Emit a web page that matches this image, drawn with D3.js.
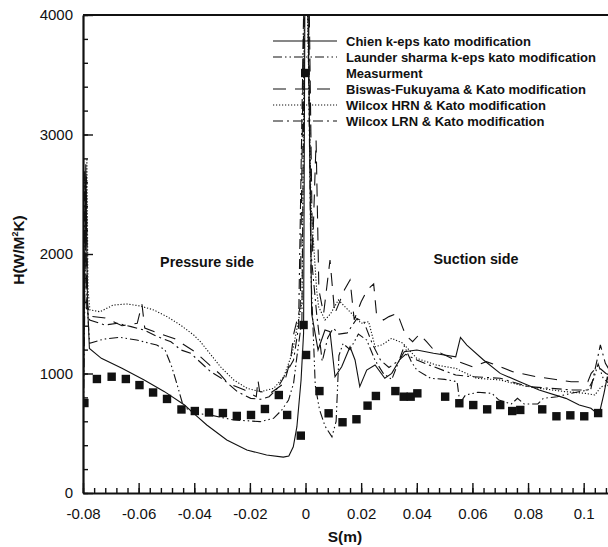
<!DOCTYPE html>
<html>
<head>
<meta charset="utf-8">
<script src="https://cdn.jsdelivr.net/npm/d3@7"></script>
<style>
  body { margin: 0; background: #fff; }
  #chart { width: 608px; height: 547px; }
  text { font-family: 'Liberation Sans', Arial, Helvetica, sans-serif; fill: #111; }
</style>
</head>
<body>
<div id="chart"></div>
<script>
// S(m) / H(W/m2K) pairs
const chien = [[-0.0800, 450], [-0.0790, 2750], [-0.0784, 1600], [-0.0777, 1210], [-0.0734, 1127], [-0.0660, 1043], [-0.0580, 946], [-0.0507, 848], [-0.0435, 736], [-0.0396, 653], [-0.0355, 569], [-0.0283, 443], [-0.0211, 360], [-0.0140, 318], [-0.0080, 300], [-0.0060, 310], [-0.0044, 387], [-0.0031, 555], [-0.0016, 946], [-0.0007, 1336], [-0.0002, 4300], [0.0008, 4300], [0.0022, 1500], [0.0045, 1197], [0.0070, 1364], [0.0088, 1350], [0.0106, 973], [0.0130, 1057], [0.0160, 1224], [0.0178, 1113], [0.0195, 890], [0.0220, 1029], [0.0250, 1071], [0.0285, 960], [0.0310, 1001], [0.0355, 1182], [0.0400, 1196], [0.0460, 1169], [0.0540, 1140], [0.0557, 1302], [0.0580, 1238], [0.0640, 1113], [0.0700, 1001], [0.0770, 931], [0.0840, 862], [0.0936, 792], [0.0984, 736], [0.1026, 709], [0.1055, 653], [0.1073, 834], [0.1085, 973], [0.1101, 806]]

const launder = [[-0.0800, 350], [-0.0788, 2650], [-0.0783, 1500], [-0.0776, 1253], [-0.0727, 1287], [-0.0667, 1303], [-0.0607, 1280], [-0.0535, 1239], [-0.0505, 1197], [-0.0481, 1057], [-0.0463, 918], [-0.0439, 722], [-0.0396, 667], [-0.0343, 653], [-0.0259, 611], [-0.0211, 605], [-0.0163, 597], [-0.0115, 625], [-0.0085, 695], [-0.0061, 778], [-0.0043, 918], [-0.0031, 1141], [-0.0013, 1448], [-0.0003, 4300], [0.0007, 4300], [0.0020, 1800], [0.0035, 900], [0.0050, 700], [0.0070, 560], [0.0095, 470], [0.0110, 600], [0.0120, 1150], [0.0135, 1250], [0.0160, 1200], [0.0190, 1330], [0.0220, 1280], [0.0250, 1110], [0.0280, 1000], [0.0310, 950], [0.0335, 1100], [0.0355, 1230], [0.0380, 1100], [0.0400, 1029], [0.0450, 960], [0.0500, 951], [0.0545, 931], [0.0555, 751], [0.0575, 820], [0.0620, 843], [0.0670, 834], [0.0695, 778], [0.0740, 745], [0.0762, 792], [0.0786, 745], [0.0835, 745], [0.0855, 792], [0.0905, 806], [0.0955, 834], [0.1015, 862], [0.1035, 950], [0.1052, 1080], [0.1070, 960], [0.1100, 900]]

const biswas = [[-0.0800, 800], [-0.0792, 2600], [-0.0786, 1600], [-0.0776, 1480], [-0.0720, 1465], [-0.0660, 1400], [-0.0605, 1420], [-0.0588, 1580], [-0.0578, 1380], [-0.0520, 1330], [-0.0470, 1290], [-0.0430, 1230], [-0.0398, 1182], [-0.0338, 1057], [-0.0310, 1000], [-0.0279, 918], [-0.0219, 862], [-0.0177, 806], [-0.0171, 946], [-0.0165, 850], [-0.0127, 834], [-0.0077, 918], [-0.0054, 1113], [-0.0042, 1336], [-0.0019, 1559], [-0.0005, 4300], [0.0012, 4300], [0.0025, 2000], [0.0038, 2950], [0.0048, 1700], [0.0065, 1500], [0.0088, 1950], [0.0105, 1500], [0.0140, 1700], [0.0160, 1783], [0.0175, 1450], [0.0200, 1600], [0.0222, 1700], [0.0245, 1750], [0.0255, 1500], [0.0280, 1448], [0.0300, 1476], [0.0330, 1504], [0.0350, 1380], [0.0360, 1322], [0.0385, 1266], [0.0410, 1330], [0.0435, 1266], [0.0460, 1200], [0.0550, 1099], [0.0600, 1057], [0.0650, 1099], [0.0700, 1057], [0.0745, 1015], [0.0830, 973], [0.0900, 950], [0.0955, 931], [0.1015, 931], [0.1027, 1001], [0.1050, 1060], [0.1080, 1000], [0.1100, 980]]

const wilcoxHrn = [[-0.0800, 1000], [-0.0786, 2800], [-0.0782, 1700], [-0.0775, 1532], [-0.0739, 1517], [-0.0691, 1573], [-0.0643, 1582], [-0.0594, 1565], [-0.0546, 1532], [-0.0498, 1476], [-0.0450, 1406], [-0.0402, 1322], [-0.0378, 1266], [-0.0354, 1197], [-0.0306, 1057], [-0.0258, 946], [-0.0210, 876], [-0.0162, 848], [-0.0114, 876], [-0.0078, 973], [-0.0048, 1169], [-0.0025, 1448], [-0.0013, 1588], [-0.0003, 4300], [0.0005, 4300], [0.0020, 2400], [0.0040, 1700], [0.0047, 1559], [0.0070, 1448], [0.0090, 1500], [0.0118, 1615], [0.0165, 1504], [0.0200, 1420], [0.0227, 1434], [0.0250, 1224], [0.0275, 1239], [0.0310, 1295], [0.0350, 1253], [0.0400, 1127], [0.0470, 1071], [0.0540, 1043], [0.0615, 960], [0.0700, 946], [0.0770, 904], [0.0840, 876], [0.0935, 848], [0.1005, 834], [0.1040, 820], [0.1063, 890], [0.1087, 900], [0.1100, 880]]

const wilcoxLrn = [[-0.0800, 600], [-0.0794, 2700], [-0.0788, 1550], [-0.0776, 1448], [-0.0722, 1406], [-0.0675, 1420], [-0.0627, 1392], [-0.0580, 1364], [-0.0532, 1308], [-0.0484, 1266], [-0.0448, 1197], [-0.0413, 1169], [-0.0341, 1015], [-0.0293, 946], [-0.0245, 848], [-0.0197, 792], [-0.0161, 784], [-0.0131, 806], [-0.0101, 876], [-0.0077, 973], [-0.0043, 1113], [-0.0025, 1392], [-0.0005, 4300], [0.0010, 4300], [0.0020, 2000], [0.0040, 1500], [0.0060, 1100], [0.0080, 1300], [0.0100, 1380], [0.0120, 1330], [0.0150, 1340], [0.0185, 1460], [0.0210, 1430], [0.0240, 1250], [0.0270, 1110], [0.0300, 1050], [0.0330, 1100], [0.0360, 1160], [0.0400, 1113], [0.0460, 1057], [0.0540, 987], [0.0600, 973], [0.0700, 960], [0.0800, 890], [0.0880, 876], [0.0960, 862], [0.1025, 862], [0.1043, 1057], [0.1060, 1239], [0.1078, 1085], [0.1100, 1000]]

const measS = [-0.0795, -0.0750, -0.0697, -0.0646, -0.0597, -0.0548, -0.0498, -0.0446, -0.0398, -0.0347, -0.0297, -0.0247, -0.0196, -0.0146, -0.0096, -0.0066, -0.0017, -0.0007, 0.0002, 0.0050, 0.0083, 0.0133, 0.0183, 0.0223, 0.0253, 0.0323, 0.0353, 0.0378, 0.0402, 0.0502, 0.0553, 0.0603, 0.0653, 0.0700, 0.0743, 0.0772, 0.0851, 0.0902, 0.0952, 0.1002, 0.1052]
const measH = [753, 954, 973, 954, 903, 841, 787, 699, 686, 674, 669, 645, 653, 703, 820, 653, 480, 1406, 1155, 853, 667, 592, 617, 731, 812, 853, 806, 806, 834, 806, 751, 736, 700, 736, 686, 695, 700, 642, 650, 642, 669]

const xMajor = [-0.08, -0.06, -0.04, -0.02, 0, 0.02, 0.04, 0.06, 0.08, 0.1]
const yMajor = [0, 1000, 2000, 3000, 4000]

const seriesNames = ['Chien k-eps kato modification', 'Launder sharma k-eps kato modification', 'Measurment',
  'Biswas-Fukuyama & Kato modification', 'Wilcox HRN & Kato modification', 'Wilcox LRN & Kato modification']

class HeatChart {
  constructor (divId) {
    this.divId = divId
    this.chart = {}
    this.chart.svg = d3.select('#' + divId)
      .append('svg')
      .attr('width', 608)
      .attr('height', 547)
    this.chart.x = d3.scaleLinear().domain([-0.08, 0.11]).range([83, 611.5])
    this.chart.y = d3.scaleLinear().domain([0, 4000]).range([493, 15])
  }

  render () {
    this.renderAxes()
    this.renderLines()
    this.renderLegend()
    this.renderText()
  }

  renderAxes () {
    const svg = this.chart.svg
    const x = this.chart.x
    const y = this.chart.y

    const xMinor = d3.range(-80, 111, 4).map(d => d / 1000)
    const yMinor = d3.range(0, 4001, 200)

    svg.append('g')
      .attr('transform', 'translate(0,493)')
      .call(d3.axisBottom(x).tickValues(xMinor).tickSize(-5).tickSizeOuter(0).tickFormat(''))
      .call(g => g.select('.domain').remove())
    svg.append('g')
      .attr('class', 'xaxis')
      .attr('transform', 'translate(0,493)')
      .call(d3.axisBottom(x).tickValues(xMajor).tickSize(-10).tickSizeOuter(0).tickPadding(15)
        .tickFormat(d => String(+d.toFixed(2))))

    svg.append('g')
      .attr('transform', 'translate(83,0)')
      .call(d3.axisLeft(y).tickValues(yMinor).tickSize(-5).tickSizeOuter(0).tickFormat(''))
      .call(g => g.select('.domain').remove())
    svg.append('g')
      .attr('class', 'yaxis')
      .attr('transform', 'translate(83,0)')
      .call(d3.axisLeft(y).tickValues(yMajor).tickSize(-10).tickSizeOuter(0).tickPadding(10)
        .tickFormat(d3.format('d')))

    svg.selectAll('.tick line').attr('stroke', '#111').attr('stroke-width', 1.4)
    svg.selectAll('.domain').attr('stroke', '#111').attr('stroke-width', 2.2)
    svg.selectAll('.xaxis text, .yaxis text')
      .attr('font-size', 15)
      .attr('fill', '#111')
      .style('font-family', "'Liberation Sans', Arial, sans-serif")

    // top frame
    svg.append('line')
      .attr('x1', x(-0.08)).attr('x2', x(0.11))
      .attr('y1', y(4000)).attr('y2', y(4000))
      .attr('stroke', '#111')
      .attr('stroke-width', 2.2)
  }

  renderLines () {
    const svg = this.chart.svg
    const x = this.chart.x
    const y = this.chart.y

    svg.append('clipPath')
      .attr('id', 'plotclip')
      .append('rect')
      .attr('x', x(-0.08))
      .attr('y', y(4000))
      .attr('width', x(0.11) - x(-0.08))
      .attr('height', y(0) - y(4000))

    const line = d3.line()
      .x(d => x(d[0]))
      .y(d => y(d[1]))

    const g = svg.append('g').attr('clip-path', 'url(#plotclip)')

    this.styles = [
      { data: chien, dash: null },
      { data: launder, dash: '9,3,1.5,3,1.5,3' },
      null,
      { data: biswas, dash: '13,9' },
      { data: wilcoxHrn, dash: '1.2,1.8' },
      { data: wilcoxLrn, dash: '10,4,2,4' }
    ]

    this.styles.filter(s => s).forEach(s => {
      g.append('path')
        .datum(s.data)
        .attr('d', line)
        .attr('fill', 'none')
        .attr('stroke', '#111')
        .attr('stroke-width', 1.1)
        .attr('stroke-dasharray', s.dash)
    })

    const meas = measS.map((s, i) => [s, measH[i]])
    g.selectAll('.meas')
      .data(meas)
      .enter()
      .append('rect')
      .attr('class', 'meas')
      .attr('x', d => x(d[0]) - 4.2)
      .attr('y', d => y(d[1]) - 4.2)
      .attr('width', 8.4)
      .attr('height', 8.4)
      .attr('fill', '#111')
  }

  renderLegend () {
    const svg = this.chart.svg
    const leg = svg.append('g').attr('class', 'legend')

    const rows = leg.selectAll('.row')
      .data(seriesNames)
      .enter()
      .append('g')
      .attr('class', 'row')
      .attr('transform', (d, i) => 'translate(0,' + (41 + i * 16) + ')')

    rows.each((d, i, nodes) => {
      const row = d3.select(nodes[i])
      const st = this.styles[i]
      if (st) {
        row.append('line')
          .attr('x1', 273).attr('x2', 337)
          .attr('y1', 0).attr('y2', 0)
          .attr('stroke', '#111')
          .attr('stroke-width', 1.1)
          .attr('stroke-dasharray', st.dash)
      } else {
        row.append('rect')
          .attr('x', 301).attr('y', -4.2)
          .attr('width', 8.4).attr('height', 8.4)
          .attr('fill', '#111')
      }
      row.append('text')
        .attr('x', 346)
        .attr('y', 4.6)
        .attr('font-size', 13)
        .attr('font-weight', 'bold')
        .text(d)
    })
  }

  renderText () {
    const svg = this.chart.svg
    svg.append('text')
      .attr('x', 207).attr('y', 267)
      .attr('text-anchor', 'middle')
      .attr('font-size', 14.3)
      .attr('font-weight', 'bold')
      .text('Pressure side')
    svg.append('text')
      .attr('x', 476).attr('y', 264)
      .attr('text-anchor', 'middle')
      .attr('font-size', 14.3)
      .attr('font-weight', 'bold')
      .text('Suction side')

    svg.append('text')
      .attr('x', 345).attr('y', 542)
      .attr('text-anchor', 'middle')
      .attr('font-size', 15.5)
      .attr('font-weight', 'bold')
      .text('S(m)')

    const yt = svg.append('text')
      .attr('transform', 'translate(24,250) rotate(-90)')
      .attr('text-anchor', 'middle')
      .attr('font-size', 15.5)
      .attr('font-weight', 'bold')
    yt.append('tspan').text('H(W/M')
    yt.append('tspan').attr('font-size', 9).attr('dy', -6).text('2')
    yt.append('tspan').attr('dy', 6).text('K)')
  }
}

const chart = new HeatChart('chart')
chart.render()
</script>
</body>
</html>
